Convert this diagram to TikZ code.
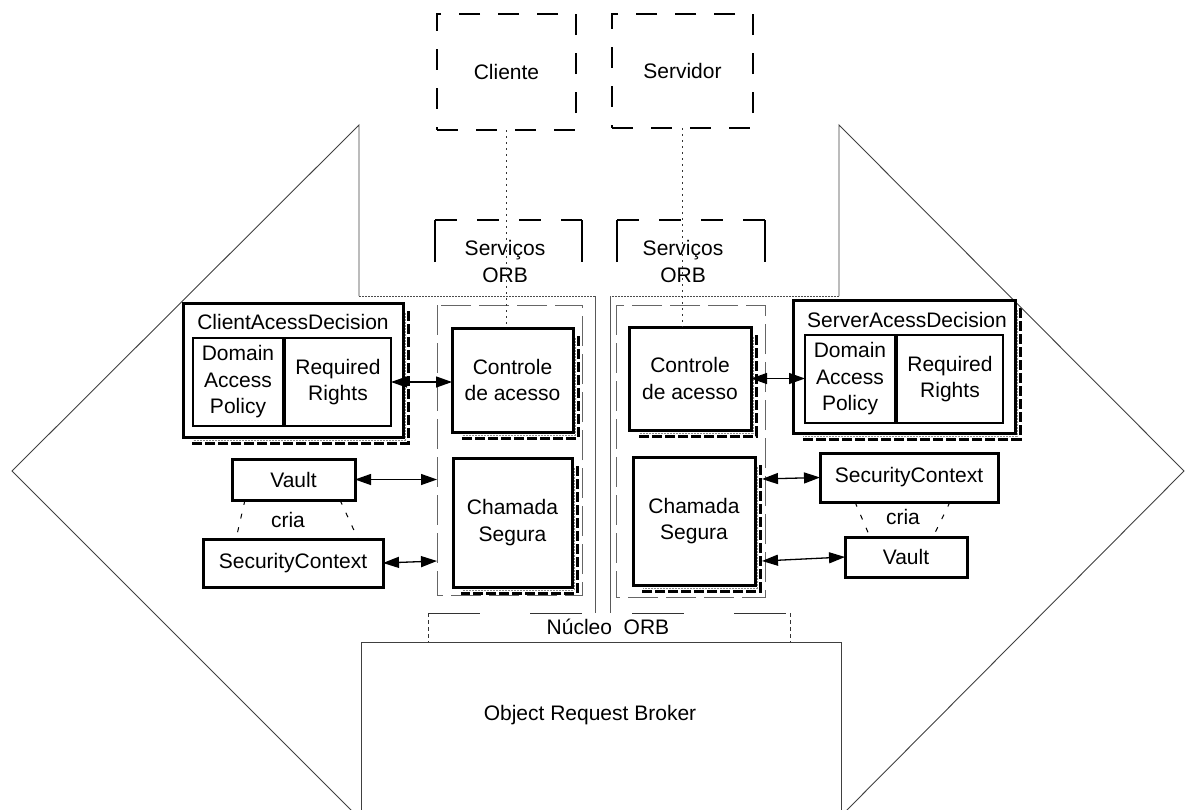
\documentclass[tikz,border=0pt]{standalone}
\usepackage{fontspec}
\setmainfont{Liberation Sans}
\usetikzlibrary{arrows.meta,calc}
\pgfdeclarelayer{shadow}
\pgfsetlayers{shadow,main}
% dashed drop shadow along the right and bottom sides of a heavy box
\newcommand\boxshadow[1]{%
  \begin{pgfonlayer}{shadow}
    \draw[shadowline] ($(#1.north east)+(5,8)$) -- ($(#1.south east)+(5,6)$) -- ($(#1.south west)+(8,6)$);
    \draw[shadowgray] ($(#1.north east)+(2,10)$) -- ($(#1.south east)+(2,3)$) -- ($(#1.south west)+(10,3)$);
  \end{pgfonlayer}}
\begin{document}
\begin{tikzpicture}[x=1pt,y=-1pt,
  every node/.style={font=\fontsize{21}{26.5}\selectfont, align=center, inner sep=0pt, outer sep=0pt},
  heavybox/.style={draw, line width=3pt, fill=white, rectangle},
  lightbox/.style={draw, line width=1.3pt, fill=white, rectangle},
  dashbox/.style={draw, line width=1.4pt, dash pattern=on 21pt off 18pt, rectangle},
  frame/.style={draw=black!75, line width=0.9pt},
  fineline/.style={draw=black!65, line width=0.9pt},
  dotrule/.style={draw=black!70, line width=0.9pt, dash pattern=on 2pt off 1pt},
  innerdash/.style={draw=black!60, line width=0.9pt, dash pattern=on 30pt off 8pt},
  bracketside/.style={draw, line width=1.4pt},
  brackettop/.style={draw, line width=1.4pt, dash pattern=on 22pt off 20pt},
  nucleotop/.style={draw=black!80, line width=0.9pt, dash pattern=on 52pt off 50pt},
  nucleoside/.style={draw=black!80, line width=0.9pt, dash pattern=on 4pt off 3pt},
  dotline/.style={draw=black!80, line width=0.9pt, dash pattern=on 2pt off 4pt},
  crialine/.style={draw, line width=1pt, dash pattern=on 5pt off 9pt},
  shadowline/.style={draw, line width=3pt, dash pattern=on 10pt off 3pt},
  shadowgray/.style={draw=black!45, line width=1pt, dash pattern=on 2pt off 1pt},
  biarrow/.style={draw, line width=1.3pt, {Triangle[length=16pt,width=11pt]}-{Triangle[length=16pt,width=11pt]}},
]
\useasboundingbox (0,0) rectangle (1189,809);

% outer client / server regions
\draw[frame] (359,296) -- (359,125) -- (12,471) -- (359,818);
\draw[frame] (839,296) -- (839,125) -- (1184,471) -- (839,818);

% middle panels
\draw[dotrule] (359,296) -- (595,296);
\draw[fineline] (595,296) -- (595,613);
\draw[dotrule] (839,296) -- (610,296);
\draw[fineline] (610,296) -- (610,613);
\draw[innerdash] (437,305) rectangle (582,595);
\draw[innerdash] (616,305) rectangle (765,597);

% ORB core
\draw[frame] (361,830) -- (361,642) -- (841,642) -- (841,830);
\node (orbtext) at (590,715) {Object Request Broker};
\node[minimum width=362, minimum height=29] (nucleo) at (609,627.5) {};
\draw[nucleotop] (nucleo.north west) -- (nucleo.north east);
\draw[nucleoside] (nucleo.north west) -- (nucleo.south west);
\draw[nucleoside] (nucleo.north east) -- (nucleo.south east);
\node (nucleotext) at (608,627) {Núcleo\ \ ORB};

% client and server applications
\node[dashbox, minimum width=139, minimum height=116] (cliente) at (506.5,72) {Cliente};
\node[dashbox, minimum width=141, minimum height=114] (servidor) at (682.5,71) {Servidor};

% ORB services brackets
\draw[bracketside] (435,262) -- (435,220);
\draw[brackettop] (435,220) -- (582,220);
\draw[bracketside] (582,220) -- (582,262);
\draw[bracketside] (617,262) -- (617,220);
\draw[brackettop] (617,220) -- (765,220);
\draw[bracketside] (765,220) -- (765,262);

% client side
\node[heavybox, minimum width=220, minimum height=134] (cad) at (293,370) {};
\node (cadtitle) at (293,322) {ClientAcessDecision};
\node[lightbox, minimum width=90, minimum height=88] (cdap) at (238,382) {Domain\\Access\\Policy};
\node[lightbox, minimum width=106, minimum height=88] (crr) at (338,382) {Required\\Rights};
\node[heavybox, minimum width=121, minimum height=104] (cctrl) at (512.5,380) {Controle\\de acesso};
\node[heavybox, minimum width=119, minimum height=129] (ccham) at (512.5,522.5) {Chamada\\Segura};
\node[heavybox, minimum width=123, minimum height=41] (cvault) at (293.5,479.5) {Vault};
\node[heavybox, minimum width=180, minimum height=48] (csec) at (293,563) {SecurityContext};
\node (ccria) at (288,520) {cria};
\coordinate (cvin) at (437,479.5);
\coordinate (csin) at (437,561);

% server side
\node[heavybox, minimum width=222, minimum height=133] (sad) at (904,366.5) {};
\node (sadtitle) at (907,320) {ServerAcessDecision};
\node[lightbox, minimum width=90, minimum height=88] (sdap) at (850,379) {Domain\\Access\\Policy};
\node[lightbox, minimum width=106, minimum height=88] (srr) at (950,379) {Required\\Rights};
\node[heavybox, minimum width=122, minimum height=103] (sctrl) at (690,378.5) {Controle\\de acesso};
\node[heavybox, minimum width=122, minimum height=128] (scham) at (694,521) {Chamada\\Segura};
\node[heavybox, minimum width=178, minimum height=49] (ssec) at (909,477.5) {SecurityContext};
\node[heavybox, minimum width=122, minimum height=40] (svault) at (906,557) {Vault};
\node (scria) at (903,517) {cria};
\coordinate (ssin) at (762,479);
\coordinate (svin) at (762,561);

% drop shadows
\boxshadow{cad}
\boxshadow{cctrl}
\boxshadow{ccham}
\boxshadow{sad}
\boxshadow{sctrl}
\boxshadow{scham}

% ORB services labels
\node (servl) at (505,261.5) {Serviços\\ORB};
\node (servr) at (683,261.5) {Serviços\\ORB};

% dotted links from the applications down to access control
\draw[dotline] (cliente.south) -- (cliente.south |- cctrl.north);
\draw[dotline] (servidor.south) -- (servidor.south |- sctrl.north);

% interactions
\draw[biarrow] (crr.east) -- (crr.east -| cctrl.west);
\draw[biarrow] (cvault.east) -- (cvin);
\draw[biarrow] (csec.east) -- (csin);
\draw[biarrow] (sctrl.east) -- (sctrl.east -| sdap.west);
\draw[biarrow] (ssin) -- (ssec.west);
\draw[biarrow] (svin) -- (svault.west);

% creation links
\draw[crialine] ($(cvault.south west)+(13,0)$) -- ($(csec.north west)+(33,0)$);
\draw[crialine] ($(cvault.south east)+(-15,0)$) -- ($(csec.north east)+(-25,0)$);
\draw[crialine] ($(ssec.south west)+(35,0)$) -- ($(svault.north west)+(25,0)$);
\draw[crialine] ($(ssec.south east)+(-48,0)$) -- ($(svault.north east)+(-34,0)$);
\end{tikzpicture}
\end{document}
